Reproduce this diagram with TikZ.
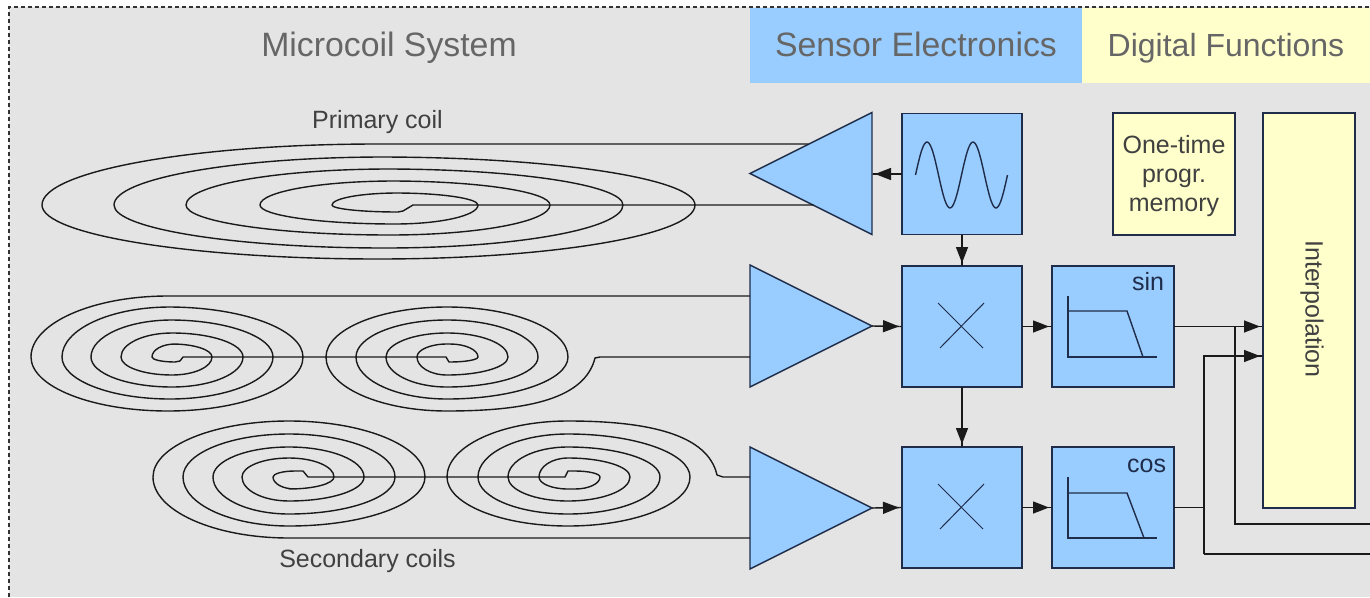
\documentclass[tikz,border=0pt]{standalone}
\usepackage{fontspec}
\setmainfont{Liberation Sans}
\usetikzlibrary{arrows.meta,shapes.geometric}
\definecolor{bgrey}{HTML}{E4E4E4}
\definecolor{bblue}{HTML}{99CCFF}
\definecolor{byellow}{HTML}{FFFFCC}
\definecolor{navy}{HTML}{1F2D4A}
\definecolor{wirec}{HTML}{1A1A1A}
\newcommand\LH[4]{-- (#1,-#2) arc[start angle=90,end angle=180,x radius={(#1-#3)*1pt},y radius={(\ym-#2)*1pt}] arc[start angle=180,end angle=270,x radius={(#1-#3)*1pt},y radius={(#4-\ym)*1pt}]}
\newcommand\RH[4]{-- (#1,-#2) arc[start angle=270,end angle=360,x radius={(#3-#1)*1pt},y radius={(#2-\ym)*1pt}] arc[start angle=0,end angle=90,x radius={(#3-#1)*1pt},y radius={(\ym-#4)*1pt}]}
\newcommand\LHb[4]{-- (#1,-#2) arc[start angle=270,end angle=180,x radius={(#1-#3)*1pt},y radius={(#2-\ym)*1pt}] arc[start angle=180,end angle=90,x radius={(#1-#3)*1pt},y radius={(\ym-#4)*1pt}]}
\newcommand\RHb[4]{-- (#1,-#2) arc[start angle=90,end angle=0,x radius={(#3-#1)*1pt},y radius={(\ym-#2)*1pt}] arc[start angle=0,end angle=-90,x radius={(#3-#1)*1pt},y radius={(#4-\ym)*1pt}]}
\tikzset{
  blockbox/.style={draw=navy,line width=1.4pt,fill=bblue,minimum width=120pt,minimum height=121pt,inner sep=0pt,outer sep=0pt},
  memobox/.style={draw=navy,line width=1.4pt,fill=byellow,inner sep=0pt,outer sep=0pt},
  amp/.style={isosceles triangle,isosceles triangle stretches,draw=navy,line width=1.4pt,fill=bblue,minimum width=122pt,minimum height=122pt,inner sep=0pt,outer sep=0pt,anchor=apex},
  band/.style={inner sep=0pt,outer sep=0pt,anchor=base,text=black!60,font=\fontsize{33.8}{36}\selectfont},
  lab/.style={inner sep=0pt,outer sep=0pt,text=black!75,font=\fontsize{25}{29}\selectfont},
  coil/.style={draw=wirec,line width=1.4pt,line join=round},
  wire/.style={draw=wirec,line width=1.4pt},
  arr/.style={wire,-{Triangle[length=16pt,width=12pt,sep=0pt]Rectangle[length=3pt,width=1.4pt]}},
  icon/.style={draw=navy,line width=1.4pt},
  thinicon/.style={draw=navy,line width=1pt}
}
\begin{document}
\begin{tikzpicture}[x=1pt,y=1pt]
\useasboundingbox (0,-597) rectangle (1370,0);
\fill[white] (0,-597) rectangle (1370,0);
\fill[bgrey] (9,-7) rectangle (1370,-597);
\fill[bblue] (750,-8) rectangle (1082,-83);
\fill[byellow] (1082,-8) rectangle (1370,-83);
\draw[black!80,line width=1.5pt,dash pattern=on 4pt off 3pt] (9,-597) -- (9,-7) -- (1370,-7);
\node[band] (hmicro) at (389,-56) {Microcoil System};
\node[band] (hsens) at (916,-56) {Sensor Electronics};
\node[band,font=\fontsize{32}{36}\selectfont] (hdig) at (1226,-56) {Digital Functions};
\node[lab,anchor=base] (lprim) at (377.5,-128) {Primary coil};
\node[lab,anchor=base] (lsec) at (367.5,-567) {Secondary coils};
% blocks
\node[blockbox] (osc) at (962,-174) {};
\node[blockbox] (mix1) at (962,-326.5) {};
\node[blockbox] (mix2) at (962,-507.5) {};
\node[blockbox,minimum width=122pt] (filt1) at (1113,-326.5) {};
\node[blockbox,minimum width=122pt] (filt2) at (1113,-507.5) {};
\node[memobox,minimum width=122pt,minimum height=122pt] (mem) at (1174,-174) {};
\node[lab,align=center] (tmem) at (1174,-176) {One-time\\progr.\\memory};
\node[memobox,minimum width=92pt,minimum height=395pt] (interp) at (1309,-310.5) {};
\node[lab,rotate=-90] (tinterp) at (1312,-309) {Interpolation};
\node[amp,shape border rotate=180] (a1) at (750,-173.5) {};
\node[amp] (a2) at (872,-326) {};
\node[amp] (a3) at (872,-508) {};
% coordinates on the amplifier inputs
\coordinate (a1up) at (808.5,-144);
\coordinate (a1lo) at (813.5,-205);
\coordinate (a2up) at (750,-296);
\coordinate (a2lo) at (750,-357);
\coordinate (a3up) at (750,-477);
\coordinate (a3lo) at (750,-538);
\coordinate (out1) at (1370,-524);
\coordinate (out2) at (1370,-554);
% icons
\draw[icon,smooth] plot[domain=915.5:1007.5,samples=70] (\x,{-175+33*sin((\x-915.5)/46*360)});
\draw[thinicon] (938,-303) -- (983,-348) (984,-303) -- (940,-348);
\draw[thinicon] (938,-484) -- (983,-529) (984,-484) -- (940,-529);
\draw[icon] (1068,-296) -- (1068,-357) -- (1157,-357);
\draw[icon] (1068,-311) -- (1127,-311) -- (1143,-357);
\draw[icon] (1068,-477) -- (1068,-538) -- (1157,-538);
\draw[icon] (1068,-493) -- (1127,-493) -- (1144,-538);
\node[lab,text=navy,anchor=east] (tsin) at (1164,-282) {sin};
\node[lab,text=navy,anchor=east] (tcos) at (1166,-465.5) {cos};
% primary coil
\def\ym{205}
\draw[coil] (a1up) \LH{378}{144}{42}{259} \RH{378}{259}{695}{157} \LH{385}{157}{114}{248} \RH{385}{248}{623}{169} \LH{390}{169}{186}{235} \RH{390}{235}{550}{181} \LH{395}{181}{260}{224} \RH{395}{224}{478}{193} \LH{398}{193}{332}{212} -- (403,-211) -- (408,-208) -- (413,-205) -- (a1lo);
% secondary coil pair, upper
\def\ym{357}
\draw[coil] (a2up) \LH{168}{296}{31}{411} \RH{168}{411}{303}{307} \LH{170}{307}{62}{399} \RH{170}{399}{273}{320} \LH{172}{320}{91}{387} \RH{172}{387}{243}{333} \LH{172}{333}{121}{375} \RH{172}{375}{212}{344} \LH{175}{344}{152}{362} -- (180,-361) -- (183,-357) -- (446,-357) -- (449,-362) \RH{450}{362}{478}{344} \LH{447}{344}{417}{375} \RH{447}{375}{508}{333} \LH{447}{333}{386}{387} \RH{447}{387}{538}{320} \LH{447}{320}{356}{399} \RH{447}{399}{568}{307} \LH{447}{307}{326}{411} .. controls (530,-411) and (585,-398) .. (595,-358) -- (600,-357) -- (a2lo);
% secondary coil pair, lower
\def\ym{477}
\draw[coil] (a3lo) \LHb{289}{538}{153}{421} \RHb{289}{421}{425}{526} \LHb{289}{526}{183}{434} \RHb{289}{434}{395}{514} \LHb{289}{514}{213}{447} \RHb{289}{447}{364}{501} \LHb{289}{501}{242}{458} \RHb{289}{458}{334}{489} \LHb{295}{489}{273}{471} -- (303,-471) -- (308,-477) -- (565,-477) -- (568,-471) \RHb{575}{471}{600}{489} \LHb{568}{489}{539}{458} \RHb{568}{458}{630}{501} \LHb{568}{501}{508}{447} \RHb{568}{447}{660}{514} \LHb{568}{514}{478}{434} \RHb{568}{434}{690}{526} \LHb{568}{526}{447}{421} .. controls (650,-421) and (708,-435) .. (717,-475) -- (723,-477) -- (a3up);
% connectors
\draw[arr] (osc.west) -- (a1.east |- osc.west);
\draw[arr] (osc.south) -- (mix1.north);
\draw[arr] (mix1.south) -- (mix2.north);
\draw[arr] (a2.east) -- (mix1.west);
\draw[arr] (a3.east) -- (mix2.west);
\draw[arr] (mix1.east) -- (filt1.west);
\draw[arr] (mix2.east) -- (filt2.west);
\draw[arr] (filt1.east) -- (filt1.east -| interp.west);
\draw[wire] (filt1.east -| 1235,0) |- (out1);
\draw[wire] (filt2.east) -- (filt2.east -| 1204,0);
\draw[arr] (1204,-554) -- (1204,-356) -- (interp.west |- 0,-356);
\draw[wire] (1204,-554) -- (out2);
\end{tikzpicture}
\end{document}
